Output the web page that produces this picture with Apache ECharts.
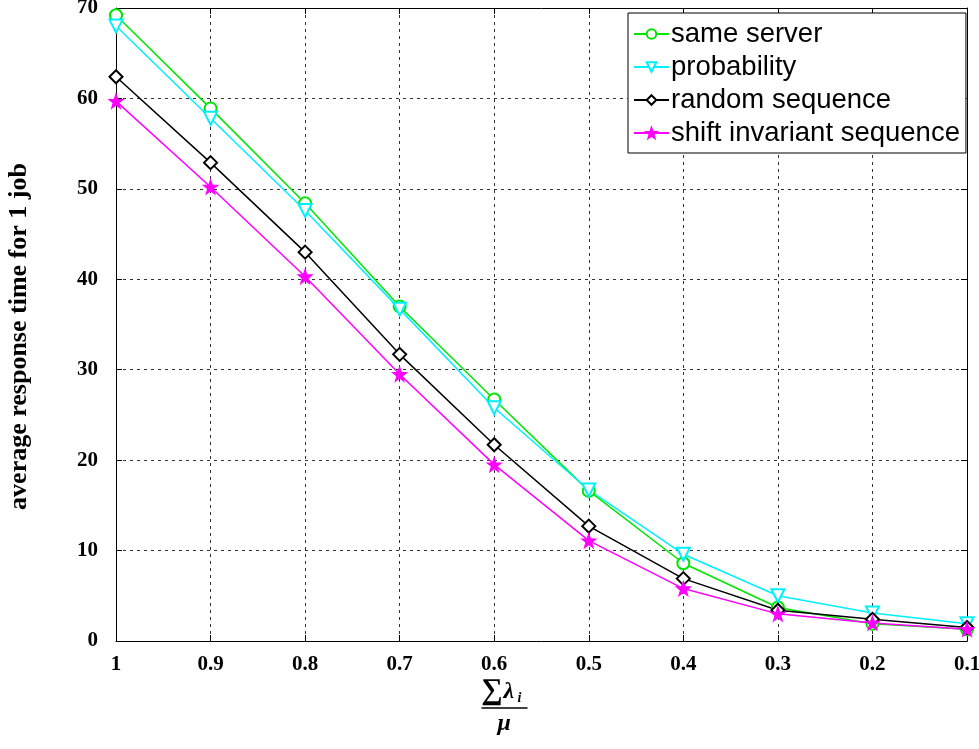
<!DOCTYPE html>
<html>
<head>
<meta charset="utf-8">
<script src="https://cdn.jsdelivr.net/npm/echarts@6/dist/echarts.min.js"></script>
<style>
  html, body { margin: 0; padding: 0; background: #fff; }
  #main { width: 979px; height: 749px; }
</style>
</head>
<body>
<div id="main"></div>
<script type="text/javascript">
// load ratio on the x axis
var categories = ['1', '0.9', '0.8', '0.7', '0.6', '0.5', '0.4', '0.3', '0.2', '0.1'];
var sameServer = [69.2, 58.9, 48.4, 37.0, 26.7, 16.6, 8.6, 3.7, 1.9, 1.3];
var probability = [68.0, 57.8, 47.6, 36.7, 25.8, 16.7, 9.6, 5.0, 3.1, 1.9];
var randomSeq = [62.4, 52.9, 43.0, 31.7, 21.7, 12.7, 6.9, 3.4, 2.4, 1.5];
var shiftInv = [59.7, 50.2, 40.3, 29.5, 19.5, 11.1, 5.8, 3.0, 2.0, 1.3];
var yTicks = { min: 0, max: 70, interval: 10 };

var star = 'path://M0,-10 L2.35,-3.24 L9.51,-3.09 L3.8,1.24 L5.88,8.09 L0,4 L-5.88,8.09 L-3.8,1.24 L-9.51,-3.09 L-2.35,-3.24 Z';
var serif = '"Liberation Serif", "Times New Roman", serif';

var chart = echarts.init(document.getElementById('main'), null, { renderer: 'canvas' });

function mkSeries(name, data, color, symbol, size, rotate) {
    return {
        name: name,
        type: 'line',
        data: data,
        xAxisIndex: 0,
        yAxisIndex: 0,
        symbol: symbol,
        symbolSize: size,
        symbolRotate: rotate || 0,
        showAllSymbol: true,
        color: color,
        lineStyle: { color: color, width: 1.5 },
        itemStyle: { color: color, borderColor: color, borderWidth: 1.2 },
        emphasis: { disabled: true },
        animation: false
    };
}

var option = {
    animation: false,
    backgroundColor: '#fff',
    grid: { left: 116, right: 12, top: 8, bottom: 108, outerBoundsMode: 'none' },
    legend: {
        orient: 'vertical',
        left: 628,
        top: 13,
        padding: [7, 6, 6, 5],
        itemGap: 5,
        itemWidth: 35,
        itemHeight: 12,
        backgroundColor: '#fff',
        borderColor: '#000',
        borderWidth: 1,
        borderRadius: 0,
        textStyle: { fontFamily: '"Liberation Sans", Arial, sans-serif', fontSize: 27.5, lineHeight: 27, color: '#000', padding: [0, 0, 0, -3] },
        data: ['same server', 'probability', 'random sequence', 'shift invariant sequence']
    },
    xAxis: [{
        type: 'category',
        data: categories,
        boundaryGap: false,
        axisLine: { onZero: false, lineStyle: { color: '#000', width: 1 } },
        axisTick: { inside: true, length: 6, lineStyle: { color: '#000' } },
        axisLabel: { margin: 13, fontFamily: serif, fontWeight: 'bold', fontSize: 21, color: '#000' },
        splitLine: { show: true, lineStyle: { color: '#333', type: [3, 4], width: 1 } }
    }, {
        type: 'category',
        data: categories,
        boundaryGap: false,
        position: 'top',
        axisLine: { onZero: false, lineStyle: { color: '#000', width: 1 } },
        axisTick: { inside: true, length: 6, lineStyle: { color: '#000' } },
        axisLabel: { show: false },
        splitLine: { show: false }
    }],
    yAxis: [{
        type: 'value',
        min: yTicks.min,
        max: yTicks.max,
        interval: yTicks.interval,
        name: 'average response time for 1 job',
        nameLocation: 'middle',
        nameGap: 84,
        nameTextStyle: { fontFamily: serif, fontWeight: 'bold', fontSize: 26, color: '#000', padding: [0, 24, 0, 0] },
        axisLine: { show: true, lineStyle: { color: '#000', width: 1 } },
        axisTick: { show: true, inside: true, length: 6, lineStyle: { color: '#000' } },
        axisLabel: { margin: 18, fontFamily: serif, fontWeight: 'bold', fontSize: 21, color: '#000' },
        splitLine: { show: true, lineStyle: { color: '#333', type: [3, 4], width: 1 } }
    }, {
        type: 'value',
        min: yTicks.min,
        max: yTicks.max,
        interval: yTicks.interval,
        position: 'right',
        axisLine: { show: true, lineStyle: { color: '#000', width: 1 } },
        axisTick: { show: true, inside: true, length: 6, lineStyle: { color: '#000' } },
        axisLabel: { show: false },
        splitLine: { show: false }
    }],
    graphic: [{
        type: 'group',
        left: 479,
        top: 676,
        children: [
            { type: 'text', left: 0, top: 0, style: { text: '∑', font: 'bold 30px ' + serif, fill: '#000' } },
            { type: 'text', left: 22, top: 4, style: { text: 'λ', font: 'bold italic 24px ' + serif, fill: '#000' } },
            { type: 'text', left: 36, top: 15, style: { text: 'i', font: 'bold italic 14px ' + serif, fill: '#000' } },
            { type: 'line', shape: { x1: 0, y1: 32, x2: 46, y2: 32 }, style: { stroke: '#000', lineWidth: 1.5 } },
            { type: 'text', left: 16, top: 36, style: { text: 'μ', font: 'bold italic 24px ' + serif, fill: '#000' } }
        ]
    }],
    series: [
        mkSeries('same server', sameServer, '#00e600', 'emptyCircle', 12),
        mkSeries('probability', probability, '#00f0ff', 'emptyTriangle', 13, 180),
        mkSeries('random sequence', randomSeq, '#000000', 'emptyDiamond', 13),
        mkSeries('shift invariant sequence', shiftInv, '#ff00ff', star, 14)
    ]
};

chart.setOption(option);
</script>
</body>
</html>
